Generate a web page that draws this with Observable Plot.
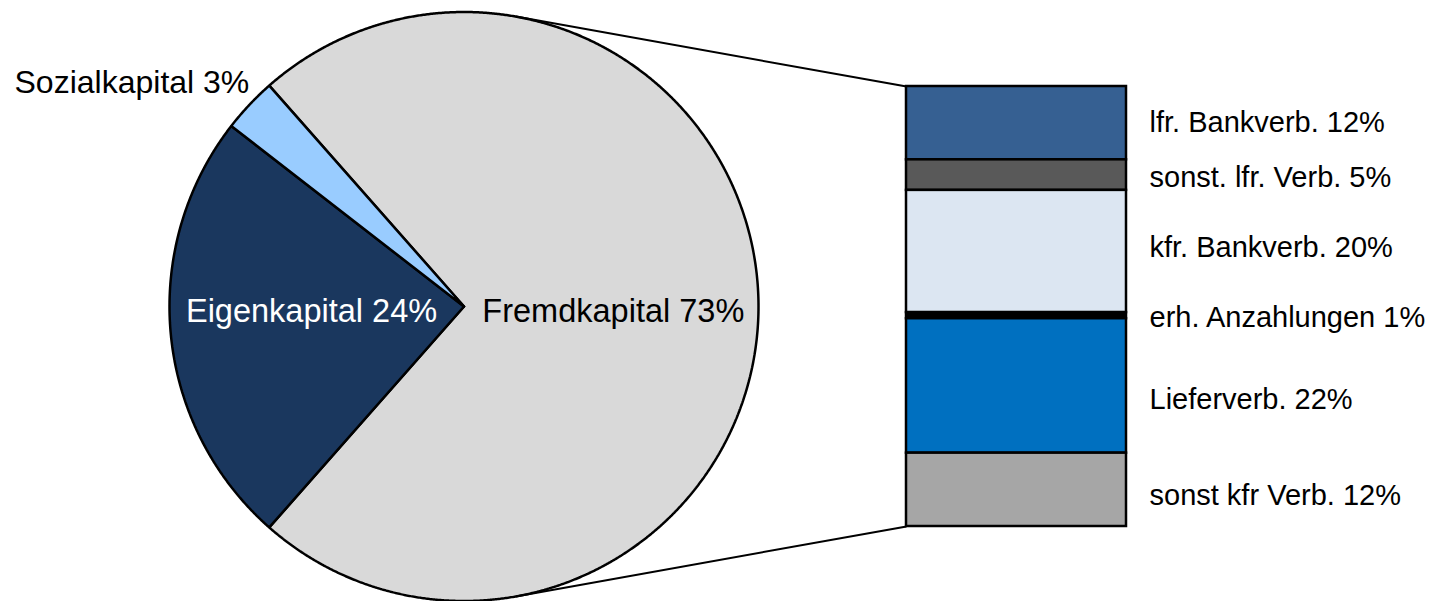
<!DOCTYPE html>
<html>
<head>
<meta charset="utf-8">
<script src="https://cdn.jsdelivr.net/npm/d3@7"></script>
<script src="https://cdn.jsdelivr.net/npm/@observablehq/plot@0.6"></script>
<style>
  html, body { margin: 0; padding: 0; background: #fff; }
  #chart svg { display: block; }
</style>
</head>
<body>
<div id="chart"></div>
<script>
// Capital structure: equity vs. debt, with the debt broken down in a stacked bar
const pieNames = ["Fremdkapital", "Eigenkapital", "Sozialkapital"];
const pieShares = [73, 24, 3];
const pieColors = ["#D9D9D9", "#1A375E", "#99CCFF"];

const barNames = ["lfr. Bankverb.", "sonst. lfr. Verb.", "kfr. Bankverb.", "erh. Anzahlungen", "Lieferverb.", "sonst kfr Verb."];
const barShares = [12, 5, 20, 1, 22, 12];
const barColors = ["#366092", "#595959", "#DCE6F2", "#000000", "#0070C0", "#A6A6A6"];

// ---- layout (pixels) ----
const W = 1432, H = 601;
const BAR_TOP = 86, BAR_HEIGHT = 440, BAR_LEFT = 906, BAR_RIGHT = 1126;
const PIE_CX = 463.5, PIE_CY = 306, PIE_R = 294.5;

// one shared coordinate system measured in percentage points
const total = d3.sum(barShares);
const k = BAR_HEIGHT / total;           // pixels per percentage point
const u = v => v / k;                   // pixels -> units
const cx = u(PIE_CX), cy = u(PIE_CY - BAR_TOP), R = u(PIE_R);
const barX1 = u(BAR_LEFT), barX2 = u(BAR_RIGHT);

// ---- pie slices as polygons ----
const pieData = pieNames.map((name, i) => ({name, value: pieShares[i]}));
const a0 = Math.PI / 2 - Math.PI * pieShares[0] / 100;   // debt slice centred on the right
const arcs = d3.pie().sort(null).value(d => d.value).startAngle(a0).endAngle(a0 + 2 * Math.PI)(pieData);

const slicePts = [];
for (const a of arcs) {
  const name = a.data.name;
  slicePts.push({name, x: cx, y: cy});
  const n = Math.ceil((a.endAngle - a.startAngle) / (Math.PI / 720));
  for (let i = 0; i <= n; i++) {
    const t = a.startAngle + (a.endAngle - a.startAngle) * i / n;
    slicePts.push({name, x: cx + R * Math.sin(t), y: cy - R * Math.cos(t)});
  }
  slicePts.push({name, x: cx, y: cy});
}

// ---- stacked bar ----
let acc = 0;
const barData = barNames.map((name, i) => {
  const y1 = acc; acc += barShares[i];
  return {name, value: barShares[i], y1, y2: acc, mid: (y1 + acc) / 2};
});

// ---- connector lines: tangents from the bar's left corners to the circle ----
function tangent(px, py, upper) {
  const dx = px - cx, dy = py - cy, d = Math.hypot(dx, dy);
  const phi = Math.atan2(dy, dx), alpha = Math.acos(R / d);
  const t = upper ? phi - alpha : phi + alpha;
  return {x1: cx + R * Math.cos(t), y1: cy + R * Math.sin(t), x2: px, y2: py};
}
const connectors = [tangent(barX1, 0, true), tangent(barX1, total, false)];

// ---- labels ----
const pieLabelPos = {
  "Fremdkapital":  {f: 0.507, dx: 0, dy: 5, anchor: "middle", fill: "black"},
  "Eigenkapital":  {f: 0.52, dx: 0, dy: -9, anchor: "middle", fill: "white"},
  "Sozialkapital": {f: 1.0, dx: 0, dy: -22, anchor: "end", fill: "black"}
};
const pieLabels = arcs.map(a => {
  const p = pieLabelPos[a.data.name];
  const m = (a.startAngle + a.endAngle) / 2;
  return {
    text: `${a.data.name} ${a.data.value}%`,
    x: cx + p.f * R * Math.sin(m) + u(p.dx),
    y: cy - p.f * R * Math.cos(m) + u(p.dy),
    anchor: p.anchor, fill: p.fill
  };
});

const barLabelNudge = [0, 3, -4, 2, 14, 6];   // pixels
const barLabels = barData.map((d, i) => ({
  text: `${d.name} ${d.value}%`,
  x: barX2 + u(23),
  y: d.mid + u(barLabelNudge[i])
}));

const chart = Plot.plot({
  width: W,
  height: H,
  margin: 0,
  style: {fontFamily: "'Liberation Sans', Arial, sans-serif", background: "white"},
  x: {domain: [0, u(W)], range: [0, W], axis: null},
  y: {domain: [u(-BAR_TOP), u(H - BAR_TOP)], range: [0, H], axis: null},
  color: {domain: [...pieNames, ...barNames], range: [...pieColors, ...barColors]},
  marks: [
    Plot.line(slicePts, {x: "x", y: "y", z: "name", fill: "name", stroke: "black", strokeWidth: 2.5, strokeLinejoin: "miter", curve: "linear"}),
    Plot.link(connectors, {x1: "x1", y1: "y1", x2: "x2", y2: "y2", stroke: "black", strokeWidth: 2}),
    Plot.rect(barData, {x1: barX1, x2: barX2, y1: "y1", y2: "y2", fill: "name", stroke: "black", strokeWidth: 2.5}),
    Plot.text(pieLabels.filter(d => d.anchor === "end"), {x: "x", y: "y", text: "text", textAnchor: "end", fill: "black", fontSize: 32}),
    Plot.text(pieLabels.filter(d => d.anchor === "middle" && d.fill === "black"), {x: "x", y: "y", text: "text", fill: "black", fontSize: 32.5}),
    Plot.text(pieLabels.filter(d => d.anchor === "middle" && d.fill === "white"), {x: "x", y: "y", text: "text", fill: "white", fontSize: 32.5}),
    Plot.text(barLabels, {x: "x", y: "y", text: "text", textAnchor: "start", fill: "black", fontSize: 29})
  ]
});
document.getElementById("chart").appendChild(chart);
</script>
</body>
</html>
